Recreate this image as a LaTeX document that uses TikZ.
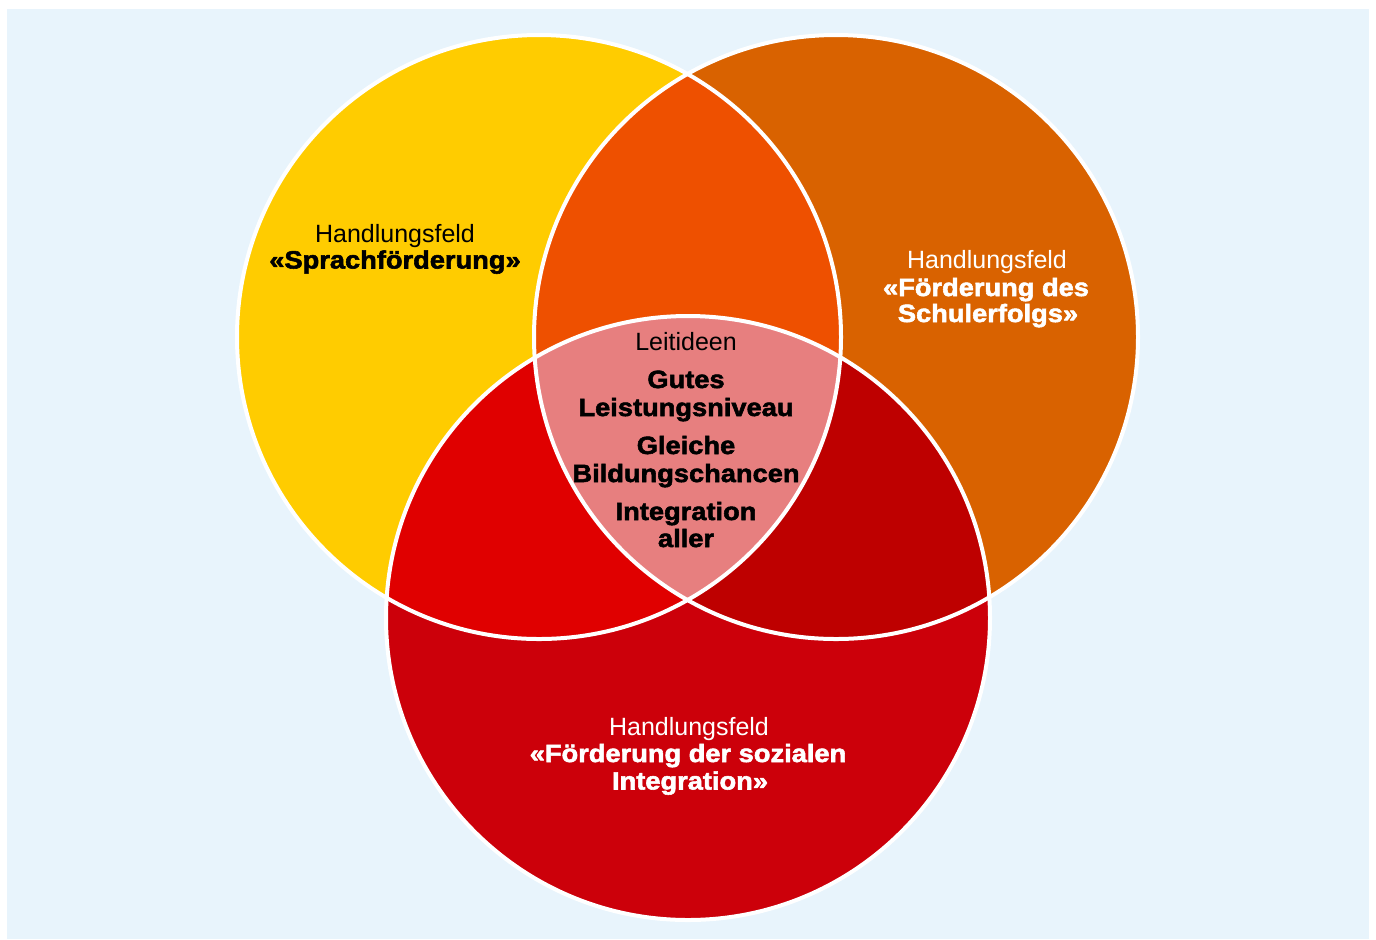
\documentclass[tikz,border=0pt]{standalone}
\usepackage{fontspec}
\setmainfont{Liberation Sans}
\newfontfamily\heavyfont{Liberation Sans}[FakeStretch=1.09,FakeBold=2.2]
\definecolor{bgblue}{HTML}{E8F4FC}
\definecolor{cyellow}{HTML}{FFCC00}
\definecolor{corange}{HTML}{D96200}
\definecolor{cred}{HTML}{CC000A}
\definecolor{cyo}{HTML}{EE5000}
\definecolor{cyr}{HTML}{E00000}
\definecolor{cor}{HTML}{BE0000}
\definecolor{ccenter}{HTML}{E77F7F}
\tikzset{
  lighttxt/.style={inner sep=0pt, anchor=base, font=\fontsize{12.5pt}{15pt}\selectfont},
  heavytxt/.style={inner sep=0pt, anchor=base, font=\fontsize{12.5pt}{15pt}\heavyfont\bfseries},
  ring/.style={draw=white, line width=2pt}
}
\begin{document}
\begin{tikzpicture}[x=0.5pt,y=-0.5pt]
\useasboundingbox (0,0) rectangle (1376,939);
\fill[bgblue] (7,9) rectangle (1369,939);
\coordinate (cy) at (539,337);
\coordinate (co) at (836,337);
\coordinate (cr) at (688,618);
\def\R{151pt}
\fill[cyellow] (cy) circle[radius=\R];
\fill[corange] (co) circle[radius=\R];
\fill[cred] (cr) circle[radius=\R];
\begin{scope}
  \clip (cy) circle[radius=\R];
  \fill[cyo] (co) circle[radius=\R];
  \fill[cyr] (cr) circle[radius=\R];
\end{scope}
\begin{scope}
  \clip (co) circle[radius=\R];
  \fill[cor] (cr) circle[radius=\R];
  \clip (cy) circle[radius=\R];
  \fill[ccenter] (cr) circle[radius=\R];
\end{scope}
\draw[ring] (cy) circle[radius=\R];
\draw[ring] (co) circle[radius=\R];
\draw[ring] (cr) circle[radius=\R];
% yellow
\node[lighttxt, text=black] (y1) at (395,242) {Handlungsfeld};
\node[heavytxt, text=black] (y2) at (395,268.5) {«Sprachförderung»};
% orange
\node[lighttxt, text=white] (o1) at (987,268) {Handlungsfeld};
\node[heavytxt, text=white] (o2) at (986,296) {«Förderung des};
\node[heavytxt, text=white] (o3) at (988,322) {Schulerfolgs»};
% red
\node[lighttxt, text=white] (r1) at (689,735) {Handlungsfeld};
\node[heavytxt, text=white] (r2) at (688,762) {«Förderung der sozialen};
\node[heavytxt, text=white] (r3) at (690,789.5) {Integration»};
% center
\node[lighttxt, text=black] (c1) at (686,350) {Leitideen};
\node[heavytxt, text=black] (c2) at (686,388) {Gutes};
\node[heavytxt, text=black] (c3) at (686,416) {Leistungsniveau};
\node[heavytxt, text=black] (c4) at (686,454) {Gleiche};
\node[heavytxt, text=black] (c5) at (686,482) {Bildungschancen};
\node[heavytxt, text=black] (c6) at (686,520) {Integration};
\node[heavytxt, text=black] (c7) at (686,547) {aller};
\end{tikzpicture}
\end{document}
